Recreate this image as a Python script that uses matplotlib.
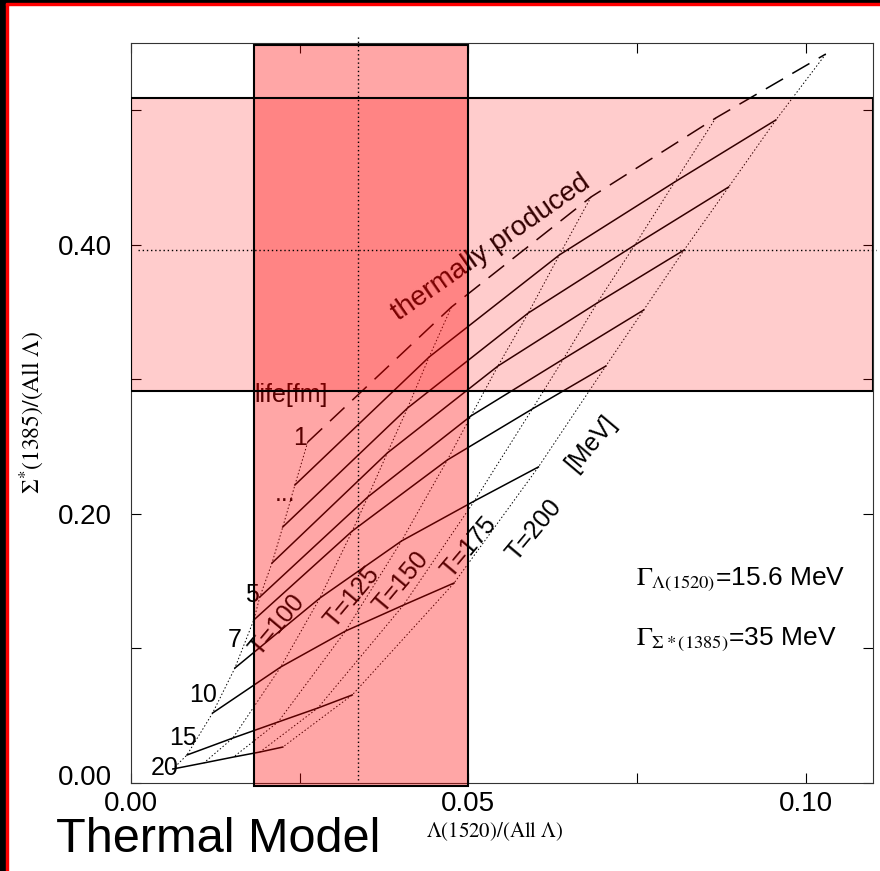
import numpy as np
import matplotlib.pyplot as plt
from matplotlib.patches import Rectangle
from matplotlib.transforms import ScaledTranslation

plt.rcParams['font.family'] = ['Liberation Sans Narrow', 'Liberation Sans', 'DejaVu Sans']
plt.rcParams['mathtext.fontset'] = 'stix'

# lifetimes [fm] and temperatures [MeV] of the model grid
lifetimes = [1, 2, 3, 4, 5, 6, 7, 10, 15, 20]
temperatures = [100, 125, 150, 175, 200]

# Lambda(1520)/(All Lambda), one row per lifetime, columns T=100..200
ratio_lambda = [
    [0.0262, 0.0475, 0.0682, 0.0867, 0.1030],
    [0.0243, 0.0442, 0.0635, 0.0806, 0.0956],
    [0.0225, 0.0410, 0.0589, 0.0747, 0.0886],
    [0.0209, 0.0380, 0.0544, 0.0691, 0.0820],
    [0.0191, 0.0351, 0.0504, 0.0641, 0.0760],
    [0.0182, 0.0328, 0.0469, 0.0595, 0.0704],
    [0.0154, 0.0280, 0.0401, 0.0509, 0.0604],
    [0.0121, 0.0222, 0.0318, 0.0404, 0.0479],
    [0.0083, 0.0151, 0.0218, 0.0277, 0.0328],
    [0.0062, 0.0108, 0.0152, 0.0191, 0.0225],
]
# Sigma*(1385)/(All Lambda)
ratio_sigma = [
    [0.2533, 0.3536, 0.4354, 0.4941, 0.5416],
    [0.2214, 0.3165, 0.3923, 0.4465, 0.4926],
    [0.1902, 0.2786, 0.3492, 0.3997, 0.4428],
    [0.1634, 0.2452, 0.3098, 0.3566, 0.3960],
    [0.1382, 0.2125, 0.2727, 0.3150, 0.3514],
    [0.1211, 0.1872, 0.2400, 0.2779, 0.3098],
    [0.0854, 0.1374, 0.1798, 0.2095, 0.2348],
    [0.0520, 0.0862, 0.1129, 0.1322, 0.1486],
    [0.0208, 0.0334, 0.0453, 0.0557, 0.0654],
    [0.0104, 0.0149, 0.0193, 0.0230, 0.0267],
]

# measured ranges (bands) and central values
lambda_band = (0.0182, 0.0500)
sigma_band = (0.291, 0.509)
lambda_meas = 0.0336
sigma_meas = 0.396

fig = plt.figure(figsize=(8.8, 8.71), dpi=100)
ax = fig.add_axes([131/880, 1-783/871, 742/880, 740.3/871])

# lifetime lines (solid), first one dashed = thermally produced
for i, life in enumerate(lifetimes):
    ls = (0, (13, 7)) if i == 0 else '-'
    ax.plot(ratio_lambda[i], ratio_sigma[i], color='black', lw=1.1, ls=ls, zorder=1)

# constant temperature lines (dotted)
for j, T in enumerate(temperatures):
    xs = [row[j] for row in ratio_lambda]
    ys = [row[j] for row in ratio_sigma]
    ax.plot(xs, ys, color='black', lw=0.7, ls=(0, (1.5, 2.2)), zorder=1)

# labels of the grid
txt = dict(color='black', fontsize=18, ha='center', va='center', zorder=1)
ax.text(0.0183, 0.2883, 'life[fm]', **{**txt, 'ha': 'left'})
for lab, xy in [('1', (0.0250, 0.2563)), ('...', (0.0228, 0.2150)), ('5', (0.0180, 0.1397)),
                ('7', (0.0154, 0.1062)), ('10', (0.0107, 0.0654)), ('15', (0.0077, 0.0334)),
                ('20', (0.0050, 0.0111))]:
    ax.text(xy[0], xy[1], lab, **txt)
rot = dict(txt, family=['Liberation Sans', 'DejaVu Sans'], rotation=50, rotation_mode='anchor')
for lab, xy in [('T=100', (0.0216, 0.1174)), ('T=125', (0.0328, 0.1382)), ('T=150', (0.0401, 0.1493)),
                ('T=175', (0.0501, 0.1753)), ('T=200', (0.0598, 0.1880)), ('[MeV]', (0.0682, 0.2526))]:
    ax.text(xy[0], xy[1], lab, **rot)
ax.text(0.0534, 0.3975, 'thermally produced', **{**rot, 'rotation': 35, 'fontsize': 20})

# bands of the measurement, drawn transparent on top
ax.add_patch(Rectangle((0, sigma_band[0]), 0.11, sigma_band[1]-sigma_band[0],
                       facecolor=(1, 0, 0, 0.2), edgecolor='none', zorder=3))
ax.add_patch(Rectangle((lambda_band[0], -0.0022), lambda_band[1]-lambda_band[0], 0.5507,
                       facecolor=(1, 0, 0, 0.35), edgecolor='none', zorder=3, clip_on=False))
ax.add_patch(Rectangle((0, sigma_band[0]), 0.11, sigma_band[1]-sigma_band[0],
                       fill=False, edgecolor='black', lw=1.5, zorder=4))
ax.add_patch(Rectangle((lambda_band[0], -0.0022), lambda_band[1]-lambda_band[0], 0.5507,
                       fill=False, edgecolor='black', lw=1.5, zorder=4, clip_on=False))
ax.plot([lambda_meas, lambda_meas], [0.002, 0.5557], color='black', lw=1, ls=(0, (1, 2)),
        zorder=5, clip_on=False)
ax.plot([0.001, 0.1105], [sigma_meas, sigma_meas], color='black', lw=1, ls=(0, (1, 2)),
        zorder=5, clip_on=False)

ax.text(0.0749, 0.1508, r'$\Gamma_{\Lambda(1520)}$=15.6 MeV', fontsize=19, va='center')
ax.text(0.0749, 0.1062, r'$\Gamma_{\Sigma*(1385)}$=35 MeV', fontsize=19, va='center')

ax.set_xlim(0, 0.11)
ax.set_ylim(0, 0.55)
ax.set_xticks([0, 0.05, 0.10])
ax.set_xticks([0.025, 0.075], minor=True)
ax.set_yticks([0, 0.2, 0.4])
ax.set_yticks([0.1, 0.3, 0.5], minor=True)
ax.set_xticklabels(['0.00', '0.05', '0.10'])
ax.set_yticklabels(['0.00', '0.20', '0.40'])
ax.tick_params(which='both', direction='in', top=True, right=True, length=7, width=0.8,
               labelsize=20)
ax.tick_params(axis='x', pad=6)
ax.tick_params(axis='y', pad=14)
for s in ax.spines.values():
    s.set_linewidth(0.8)
    s.set_color('#333333')

# the 0.00 of the y axis sits a little higher
lab0 = ax.yaxis.get_major_ticks()[0].label1
lab0.set_transform(lab0.get_transform() + ScaledTranslation(0, 0.08, fig.dpi_scale_trans))

fig.text(32/880, 1-412/871, r'$\Sigma^{*}(1385)/(\mathrm{All}\ \Lambda)$', rotation=90,
         ha='center', va='center', fontsize=17)
fig.text(495/880, 1-832/871, r'$\Lambda(1520)/(\mathrm{All}\ \Lambda)$',
         ha='center', va='center', fontsize=15)
fig.text(56/880, 1-852/871, 'Thermal Model', fontsize=35, ha='left', va='baseline')

# frame of the slide
fig.add_artist(Rectangle((0, 0), 6/880, 1, transform=fig.transFigure, color='black'))
fig.add_artist(Rectangle((6/880, 0), 2/880, 1-3/871, transform=fig.transFigure, color='red'))
fig.add_artist(Rectangle((0, 1-3/871), 1, 3/871, transform=fig.transFigure, color='black'))
fig.add_artist(Rectangle((6/880, 1-5/871), 1, 2/871, transform=fig.transFigure, color='red'))

fig.savefig('out.png', dpi=100)
